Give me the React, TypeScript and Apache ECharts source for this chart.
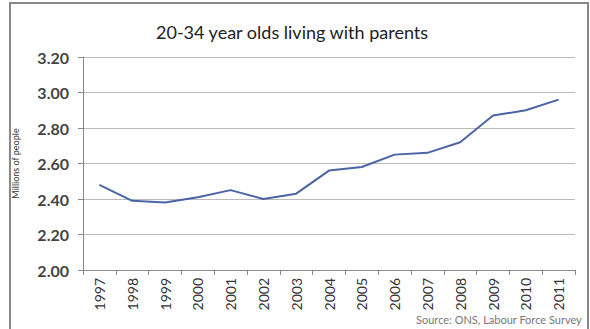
import React, { useEffect, useRef } from "react";
import * as echarts from "echarts";

const years = ["1997","1998","1999","2000","2001","2002","2003","2004","2005","2006","2007","2008","2009","2010","2011"];
const livingWithParents = [2.48, 2.39, 2.38, 2.41, 2.45, 2.40, 2.43, 2.56, 2.58, 2.65, 2.66, 2.72, 2.87, 2.90, 2.96];
const titleText = "20-34 year olds living with parents";
const yAxisName = "Millions of people";
const sourceText = "Source: ONS, Labour Force Survey";

export default function App() {
  const ref = useRef<HTMLDivElement>(null);
  useEffect(() => {
    if (!ref.current) return;
    const chart = echarts.init(ref.current, null, { renderer: "svg" });
    const font = "Lato, 'Open Sans', sans-serif";
    chart.setOption({
      animation: false,
      backgroundColor: "#ffffff",
      textStyle: { fontFamily: font },
      title: {
        text: titleText,
        left: 151,
        top: 18,
        textStyle: { fontSize: 18, fontWeight: "normal", color: "#222", fontFamily: font },
      },
      grid: { left: 83, right: 15, top: 57, bottom: 59, containLabel: false },
      xAxis: {
        type: "category",
        data: years,
        boundaryGap: true,
        axisLine: { lineStyle: { color: "#888", width: 1 } },
        axisTick: { show: true, length: 5, lineStyle: { color: "#888" } },
        axisLabel: { rotate: 90, margin: 8, fontSize: 14, color: "#333", fontFamily: font },
      },
      yAxis: {
        type: "value",
        min: 2.0,
        max: 3.2,
        interval: 0.2,
        name: yAxisName,
        nameLocation: "middle",
        nameGap: 63,
        nameTextStyle: { fontSize: 9, color: "#333", fontFamily: font },
        axisLine: { show: true, lineStyle: { color: "#888", width: 1 } },
        axisTick: { show: true, length: 5, lineStyle: { color: "#888" } },
        axisLabel: {
          margin: 14,
          fontSize: 16,
          fontWeight: "bold",
          color: "#444",
          fontFamily: font,
          formatter: (v: number) => v.toFixed(2),
        },
        splitLine: { lineStyle: { color: "#bbb", width: 1 } },
      },
      series: [
        {
          type: "line",
          data: livingWithParents,
          symbol: "none",
          lineStyle: { color: "#4a64a4", width: 2 },
        },
      ],
      graphic: [
        {
          type: "rect",
          shape: { x: 10, y: 3, width: 578, height: 340 },
          style: { fill: "none", stroke: "#888", lineWidth: 2 },
          silent: true,
        },
        {
          type: "text",
          right: 8,
          top: 314,
          style: { text: sourceText, fontSize: 11, fill: "#777", fontFamily: font },
        },
      ],
    });
    return () => chart.dispose();
  }, []);
  return (
    <div
      ref={ref}
      style={{ position: "fixed", left: 0, top: 0, width: 590, height: 329 }}
    />
  );
}
